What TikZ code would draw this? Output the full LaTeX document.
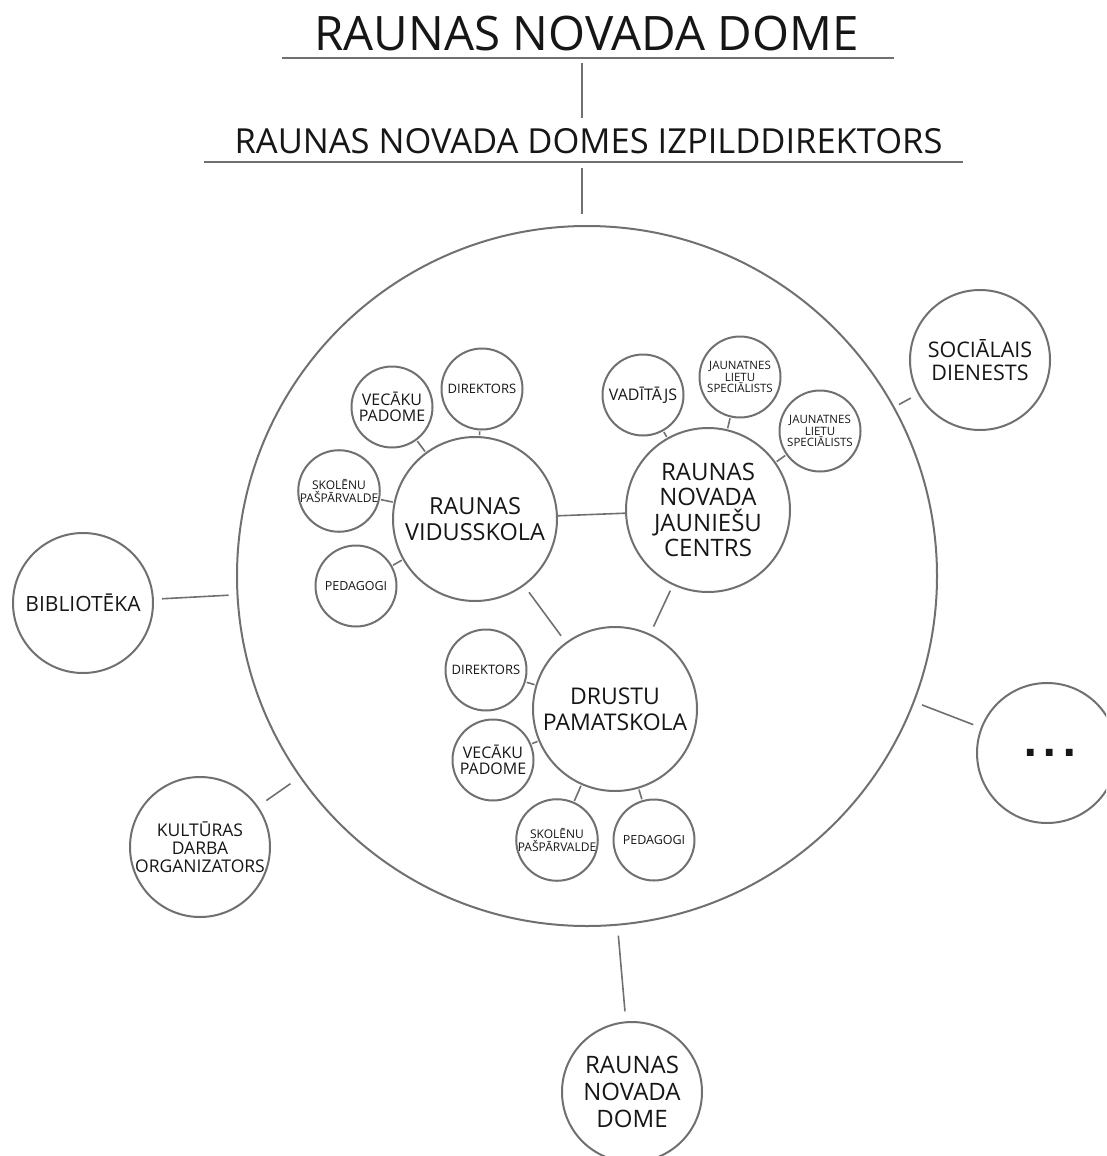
\documentclass[tikz,border=0pt]{standalone}
\usepackage{fontspec}
\setmainfont{Open Sans}
\newfontfamily\dotfont{DejaVu Sans}
\usepackage{xcolor}
\usepackage{tikz}
\usetikzlibrary{shapes}
\definecolor{line_gray}{RGB}{112,112,112}
\definecolor{text_dark}{RGB}{22,22,22}
\tikzset{ unit/.style = {circle, draw=line_gray, line width=2pt, inner sep=0pt, align=center, text=text_dark} }
\tikzset{ main_unit/.style = {unit, minimum size=164pt, font=\fontsize{23.5}{26}\selectfont} }
\tikzset{ sub_unit/.style = {unit, minimum size=81pt, font=\fontsize{13}{14}\selectfont} }
\tikzset{ outer_unit/.style = {unit, minimum size=140pt, font=\fontsize{21.5}{23}\selectfont} }
\tikzset{ link/.style = {draw=line_gray, line width=1.6pt, shorten <=1pt, shorten >=1pt} }
\tikzset{ gap_link/.style = {draw=line_gray, line width=1.6pt, shorten <=8pt, shorten >=8pt} }
\tikzset{ head_text/.style = {anchor=base, inner sep=0pt, text=text_dark} }

\begin{document}
\begin{tikzpicture}[x=1pt,y=-1pt]
    \clip (0,0) rectangle (1106,1156);
            % heads
            \node [style=head_text, font=\fontsize{47.5}{50}\selectfont] (dome) at (586.5,51) {RAUNAS NOVADA DOME};
            \node [style=head_text, font=\fontsize{34.5}{36}\selectfont] (izpild) at (588.5,153) {RAUNAS NOVADA DOMES IZPILDDIREKTORS};
            \coordinate (dome_l) at (282,58);
            \coordinate (dome_r) at (894,58);
            \coordinate (izpild_l) at (204,162);
            \coordinate (izpild_r) at (963,162);
            \coordinate (dome_a) at (582,63);
            \coordinate (dome_b) at (582,118);
            \coordinate (izpild_a) at (582,168);
            \coordinate (izpild_b) at (582,214);
            \draw [draw=line_gray, line width=2.7pt] (dome_l) -- (dome_r);
            \draw [draw=line_gray, line width=2pt] (izpild_l) -- (izpild_r);
            \draw [draw=line_gray, line width=1.5pt] (dome_a) -- (dome_b);
            \draw [draw=line_gray, line width=1.5pt] (izpild_a) -- (izpild_b);

            % the big circle
            \node [style=unit, minimum size=700pt] (novads) at (587,576) {};

                \node [style=main_unit] (vid) at (475,519) {RAUNAS\\VIDUSSKOLA};
                \node [style=main_unit, font=\fontsize{24}{25.5}\selectfont] (centrs) at (708,510) {RAUNAS\\NOVADA\\JAUNIEŠU\\CENTRS};
                \node [style=main_unit, font=\fontsize{23}{26}\selectfont] (drustu) at (615,709) {DRUSTU\\PAMATSKOLA};

                \node [style=sub_unit] (vid_dir) at (482,389) {DIREKTORS};
                \node [style=sub_unit, font=\fontsize{16}{16.7}\selectfont] (vid_vec) at (392,407) {VECĀKU\\PADOME};
                \node [style=sub_unit, font=\fontsize{12}{12.5}\selectfont] (vid_sk) at (339,491) {SKOLĒNU\\PAŠPĀRVALDE};
                \node [style=sub_unit, font=\fontsize{12.5}{14}\selectfont] (vid_ped) at (356,586) {PEDAGOGI};

                \node [style=sub_unit, font=\fontsize{16}{17}\selectfont] (c_vad) at (643,395) {VADĪTĀJS};
                \node [style=sub_unit, font=\fontsize{11.5}{11.7}\selectfont] (c_jl1) at (740,377) {JAUNATNES\\LIETU\\SPECIĀLISTS};
                \node [style=sub_unit, font=\fontsize{11.5}{11.7}\selectfont] (c_jl2) at (820,431) {JAUNATNES\\LIETU\\SPECIĀLISTS};

                \node [style=sub_unit] (dr_dir) at (486,670) {DIREKTORS};
                \node [style=sub_unit, font=\fontsize{16}{16.7}\selectfont] (dr_vec) at (493,760) {VECĀKU\\PADOME};
                \node [style=sub_unit, font=\fontsize{12}{12.5}\selectfont] (dr_sk) at (557,840) {SKOLĒNU\\PAŠPĀRVALDE};
                \node [style=sub_unit, font=\fontsize{12.5}{14}\selectfont] (dr_ped) at (654,840) {PEDAGOGI};

            % outside
            \node [style=outer_unit] (soc) at (980,360) {SOCIĀLAIS\\DIENESTS};
            \node [style=outer_unit, font=\fontsize{21}{23}\selectfont] (bibl) at (83,603) {BIBLIOTĒKA};
            \node [style=outer_unit, font=\dotfont\fontsize{38}{38}\bfseries] (citi) at (1047,753) {\hspace*{6pt}.\kern5pt.\kern5pt.};
            \node [style=outer_unit, font=\fontsize{17.5}{18}\selectfont] (kult) at (200,847) {KULTŪRAS\\DARBA\\ORGANIZATORS};
            \node [style=outer_unit, font=\fontsize{24}{26.7}\selectfont] (rnd) at (632,1092) {RAUNAS\\NOVADA\\DOME};

                \draw [style=link] (vid_dir) to (vid);
                \draw [style=link] (vid_vec) to (vid);
                \draw [style=link] (vid_sk) to (vid);
                \draw [style=link] (vid_ped) to (vid);
                \draw [style=link] (c_vad) to (centrs);
                \draw [style=link] (c_jl1) to (centrs);
                \draw [style=link] (c_jl2) to (centrs);
                \draw [style=link] (dr_dir) to (drustu);
                \draw [style=link] (dr_vec) to (drustu);
                \draw [style=link] (dr_sk) to (drustu);
                \draw [style=link] (dr_ped) to (drustu);
                \draw [style=link, shorten <=0pt, shorten >=0pt] (vid) to (centrs);
                \draw [style=gap_link] (vid) to (drustu);
                \draw [style=gap_link, shorten <=6pt] (centrs) to (drustu);

            \draw [style=gap_link, shorten <=5pt] (novads) to (soc);
            \draw [style=gap_link] (novads) to (bibl);
            \draw [style=gap_link] (novads) to (citi);
            \draw [style=gap_link, shorten <=11pt, shorten >=10pt] (novads) to (kult);
            \draw [style=gap_link, shorten <=10pt, shorten >=10pt] (novads) to (rnd);
\end{tikzpicture}
\end{document}
